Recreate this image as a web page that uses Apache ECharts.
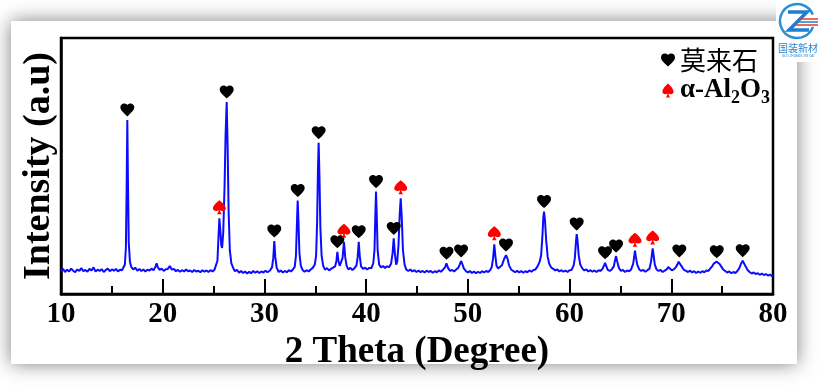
<!DOCTYPE html>
<html>
<head>
<meta charset="utf-8">
<script src="https://cdn.jsdelivr.net/npm/echarts@6/dist/echarts.min.js"></script>
<style>
html,body{margin:0;padding:0;background:#fff;}
#chart{width:820px;height:389px;}
</style>
</head>
<body>
<div id="chart"></div>
<script>
// XRD scan: [2theta (deg), intensity (a.u., 0-100 of frame height)]
const xrdScan = [
[10.0,9.0],[10.2,9.8],[10.4,8.6],[10.6,9.5],[10.8,8.8],[11.0,9.9],[11.2,9.1],[11.4,8.5],[11.6,9.6],[11.8,9.0],
[12.0,10.1],[12.2,8.9],[12.4,9.4],[12.6,8.7],[12.8,9.8],[13.0,9.2],[13.2,10.4],[13.4,8.8],[13.6,9.5],[13.8,9.0],
[14.0,9.7],[14.2,8.6],[14.4,9.4],[14.6,9.9],[14.8,8.9],[15.0,9.6],[15.2,9.1],[15.4,9.8],[15.6,8.8],[15.8,9.5],[16.0,9.3],
[16.15,9.9],[16.28,11.5],[16.38,18],[16.45,40],[16.52,68],[16.58,45],[16.66,20],[16.78,12.5],[16.92,10.5],
[17.1,9.6],[17.3,10.3],[17.5,9.1],[17.7,9.8],[17.9,9.0],[18.1,9.6],[18.3,8.8],[18.5,9.5],[18.7,9.2],[18.9,9.9],
[19.1,9.3],[19.3,10.8],[19.4,12.0],[19.5,10.6],[19.7,9.4],[19.9,9.9],[20.1,9.0],[20.3,9.7],[20.5,9.8],[20.7,10.9],
[20.9,9.5],[21.1,9.8],[21.3,8.9],[21.5,9.4],[21.7,8.7],[21.9,9.3],[22.1,8.8],[22.3,9.6],[22.5,8.9],[22.7,9.2],
[22.9,8.6],[23.1,9.4],[23.3,8.8],[23.5,9.1],[23.7,8.5],[23.9,9.3],[24.1,8.7],[24.3,9.2],[24.5,8.6],[24.7,9.3],
[24.9,8.8],[25.1,9.6],
[25.25,10.2],[25.38,13],[25.48,22],[25.57,29.6],[25.66,25],[25.76,19],[25.84,18],[25.95,24],[26.08,42],[26.18,62],
[26.29,75],[26.38,58],[26.48,32],[26.6,17],[26.75,12],[26.95,10],
[27.1,8.9],[27.3,9.5],[27.5,8.3],[27.7,9.0],[27.9,8.2],[28.1,8.8],[28.3,8.0],[28.5,8.7],[28.7,8.1],[28.9,9.0],
[29.1,8.3],[29.3,8.9],[29.5,8.2],[29.7,8.8],[29.9,8.4],[30.1,9.1],[30.3,8.5],[30.55,9.2],
[30.75,10.5],[30.87,14],[30.97,20.7],[31.07,14.5],[31.2,10.3],
[31.4,8.6],[31.6,9.2],[31.8,8.4],[32.0,9.0],[32.2,8.5],[32.4,9.3],[32.6,8.8],[32.8,9.6],
[32.98,10.6],[33.1,15],[33.2,28],[33.27,36.5],[33.34,29],[33.44,16],[33.58,11],
[33.75,9.4],[33.95,8.7],[34.15,9.3],[34.35,8.8],[34.55,9.6],[34.75,10.2],
[34.95,11.5],[35.08,15],[35.18,28],[35.26,48],[35.33,59.1],[35.41,46],[35.5,26],[35.62,15],[35.78,11],
[35.95,9.5],[36.15,10.1],[36.35,9.2],[36.55,9.8],[36.75,10.3],[36.95,10.8],
[37.08,13],[37.17,16.5],[37.27,13],[37.4,11],[37.55,11.3],[37.68,14],[37.82,20.4],[37.94,14.5],[38.08,11],
[38.25,9.6],[38.45,10.2],[38.65,9.4],[38.85,10.1],[39.05,11.2],
[39.17,14.5],[39.27,20.4],[39.37,14.8],[39.5,10.8],
[39.7,9.8],[39.9,10.3],[40.1,9.6],[40.3,10.2],[40.5,10.0],[40.7,12],
[40.82,17],[40.9,30],[40.97,40],[41.04,31],[41.13,17],[41.28,11.5],
[41.45,10.4],[41.65,10.9],[41.85,10.2],[42.05,10.8],[42.25,10.5],[42.45,11.8],
[42.6,16],[42.71,21.7],[42.82,16],[42.95,11.5],[43.05,12.5],[43.18,19],[43.3,31],[43.4,37.4],[43.5,30],[43.62,17],[43.78,11.5],
[43.95,9.5],[44.15,9.0],[44.35,9.6],[44.55,8.8],[44.75,9.3],[44.95,8.6],[45.15,9.2],[45.35,8.5],[45.55,9.0],[45.75,8.4],
[45.95,9.1],[46.15,8.6],[46.35,9.0],[46.55,8.3],[46.75,8.9],[46.95,8.5],[47.15,9.2],[47.35,8.7],[47.55,9.5],[47.75,10.4],
[47.9,12],[48.05,10.2],[48.25,9.0],[48.45,9.4],[48.65,8.8],[48.85,9.6],[49.05,10.2],[49.2,11.5],
[49.33,12.9],[49.45,11.8],[49.6,10],[49.8,9.0],[50.0,8.4],[50.2,9.0],[50.4,8.2],[50.6,8.8],[50.8,8.1],[51.0,8.7],
[51.2,8.2],[51.4,8.9],[51.6,8.4],[51.8,9.0],[52.0,8.6],[52.2,9.4],[52.35,10.5],
[52.48,14],[52.6,19.4],[52.7,15],[52.82,11],[52.98,10],[53.15,10.6],[53.35,11.2],[53.55,13.5],
[53.75,15.2],[53.9,13.8],[54.05,11.2],[54.25,9.6],[54.45,9.0],[54.65,8.5],[54.85,9.1],[55.05,8.4],[55.25,9.0],[55.45,8.3],
[55.65,8.9],[55.85,8.5],[56.05,9.2],[56.25,8.7],[56.45,9.4],[56.65,9.6],[56.85,10.8],[57.05,12.5],
[57.2,15],[57.32,22],[57.42,30],[57.49,32.2],[57.58,29],[57.7,21],[57.85,14.5],[58.0,11.8],[58.2,10.3],[58.4,9.8],
[58.6,9.2],[58.8,9.6],[59.0,8.8],[59.2,9.3],[59.4,8.7],[59.6,9.1],[59.8,8.6],[60.0,9.3],[60.2,9.4],[60.4,11.2],
[60.52,14],[60.62,20],[60.7,23.4],[60.78,21],[60.9,15],[61.05,11.5],[61.25,10.0],[61.45,9.2],[61.65,9.6],[61.85,8.8],
[62.05,9.3],[62.25,8.7],[62.45,9.2],[62.65,8.6],[62.85,9.3],[63.05,9.0],[63.25,9.9],
[63.4,11.3],[63.49,12.2],[63.6,11],[63.75,9.4],[63.95,9.0],[64.15,9.6],[64.35,10.8],
[64.47,13.2],[64.57,14.8],[64.68,12.8],[64.85,10.2],[65.05,9.0],[65.25,9.4],[65.45,8.6],[65.65,9.2],[65.85,8.9],[66.05,9.6],[66.25,11.8],
[66.35,14.5],[66.43,16.9],[66.52,14.5],[66.65,11.5],[66.85,9.6],[67.05,9.0],[67.25,9.4],[67.45,8.7],[67.65,9.3],[67.85,9.8],[68.0,12.5],
[68.1,15.5],[68.17,17.8],[68.25,15.5],[68.38,11.5],[68.55,9.6],[68.75,9.0],[68.95,9.4],[69.15,8.6],[69.35,9.1],[69.55,9.6],
[69.7,10.5],[69.78,11],[69.88,10.2],[70.05,9.3],[70.25,9.6],[70.45,10.5],
[70.6,11.5],[70.72,12.6],[70.79,12.9],[70.9,12.2],[71.05,10.6],[71.25,9.4],[71.45,9.0],[71.65,8.6],[71.85,9.1],[72.05,8.4],
[72.25,8.9],[72.45,8.2],[72.65,8.8],[72.85,8.3],[73.05,8.9],[73.25,8.5],[73.45,9.2],[73.65,9.0],[73.85,10.0],[74.05,11],
[74.2,12.0],[74.35,12.5],[74.47,12.6],[74.6,12.2],[74.75,11.7],[74.9,10.8],[75.1,9.6],[75.3,9.0],[75.5,8.4],[75.7,8.8],
[75.9,8.1],[76.1,8.6],[76.3,8.2],[76.5,9.0],[76.7,10.2],[76.85,11.8],
[77.02,13],[77.15,12.3],[77.3,10.8],[77.5,9.4],[77.7,8.6],[77.9,8.0],[78.1,8.4],[78.3,7.8],[78.5,8.1],[78.7,7.5],
[78.9,8.0],[79.1,7.4],[79.3,7.8],[79.5,7.2],[79.7,7.6],[79.9,7.0],[80.0,7.3]
];

// Peak markers
const mulliteTwoTheta = [16.52, 26.29, 30.97, 33.27, 35.33, 37.17, 39.27, 40.97, 42.71, 47.9, 49.33, 53.75, 57.49, 60.70, 63.49, 64.57, 70.79, 74.47, 77.02];
const mulliteTop      = [68,    75,    20.7,  36.5,  59.1,  16.5,  20.4,  40,    21.7,  12,   12.9,  15.2,  32.2,  23.4,  12.2,  14.8,  12.9,  12.6,  13];
const aluminaTwoTheta = [25.57, 37.82, 43.40, 52.60, 66.43, 68.17];
const aluminaTop      = [29.6,  20.4,  37.4,  19.4,  16.9,  17.8];

const xTicks = [10, 20, 30, 40, 50, 60, 70, 80];
const legendNames = ['莫来石', 'α-Al2O3'];

const heartPath = 'path://M12 21.35l-1.45-1.32C5.4 15.36 2 12.28 2 8.5 2 5.42 4.42 3 7.5 3c1.74 0 3.41.81 4.5 2.09C13.09 3.81 14.76 3 16.5 3 19.58 3 22 5.42 22 8.5c0 3.78-3.4 6.86-8.55 11.54L12 21.35z';
const spadePath = 'path://M12 2C12 2 4 9 4 13.5C4 16 5.8 17.5 7.8 17.5C9.3 17.5 10.5 16.8 11.2 15.8C11 18 10.4 20 9 22L15 22C13.6 20 13 18 12.8 15.8C13.5 16.8 14.7 17.5 16.2 17.5C18.2 17.5 20 16 20 13.5C20 9 12 2 12 2Z';

const serif = '"Liberation Serif","Times New Roman",serif';
const chart = echarts.init(document.getElementById('chart'), null, {renderer: 'canvas'});

chart.setOption({
  animation: false,
  backgroundColor: '#fff',
  graphic: [
    { type: 'rect', z: -10, shape: {x: 11, y: 21, width: 786, height: 343},
      style: {fill: '#fff', shadowBlur: 18, shadowColor: 'rgba(0,0,0,0.5)'} },
    { type: 'rect', z: -5, shape: {x: 776, y: 0, width: 44, height: 62}, style: {fill: '#fff'} },
    { type: 'arc', z: 10, shape: {cx: 797, cy: 21, r: 17, startAngle: 0.35, endAngle: 5.9},
      style: {stroke: '#2b8fd6', lineWidth: 2.5, fill: null} },
    { type: 'polyline', z: 10, shape: {points: [[788, 12], [807, 12], [789, 30], [809, 30]]},
      style: {stroke: '#1f7fcf', lineWidth: 3.5, fill: null} },
    { type: 'line', z: 10, shape: {x1: 799, y1: 19, x2: 818, y2: 19}, style: {stroke: '#e53935', lineWidth: 1.5} },
    { type: 'line', z: 10, shape: {x1: 797, y1: 22, x2: 818, y2: 22}, style: {stroke: '#1f7fcf', lineWidth: 1.5} },
    { type: 'line', z: 10, shape: {x1: 795, y1: 25, x2: 818, y2: 25}, style: {stroke: '#e53935', lineWidth: 1.5} },
    { type: 'text', z: 10, x: 798, y: 48,
      style: {text: '国装新材', fill: '#2b87d1', font: '10px "Noto Sans CJK SC"', align: 'center', verticalAlign: 'middle'} },
    { type: 'text', z: 10, x: 798, y: 56,
      style: {text: 'GUO ZHUANG XIN CAI', fill: '#2b87d1', font: '3px sans-serif', align: 'center', verticalAlign: 'middle'} }
  ],
  grid: {left: 61, right: 47, top: 38, bottom: 95, show: true, borderColor: '#000', borderWidth: 2.5, backgroundColor: 'transparent'},
  legend: {
    orient: 'vertical', left: 656, top: 42, itemWidth: 14, itemHeight: 14, itemGap: 4,
    data: [{name: legendNames[0], icon: heartPath, itemStyle: {color: '#000', opacity: 1}},
           {name: legendNames[1], icon: spadePath, itemStyle: {color: '#ff0000', opacity: 1}}],
    formatter: function (n) {
      return n === legendNames[1] ? '{t|α-Al}{s|2}{t|O}{s|3}' : '{c|' + n + '}';
    },
    textStyle: {
      color: '#000',
      rich: {
        c: {fontFamily: '"Noto Sans CJK SC"', fontSize: 26, lineHeight: 32, color: '#000'},
        t: {fontFamily: serif, fontWeight: 'bold', fontSize: 27, lineHeight: 34, color: '#000'},
        s: {fontFamily: serif, fontWeight: 'bold', fontSize: 18, lineHeight: 34, verticalAlign: 'bottom', color: '#000'}
      }
    }
  },
  xAxis: {
    type: 'value', min: 10, max: 80, interval: 10,
    name: '2 Theta (Degree)', nameLocation: 'middle', nameGap: 32,
    nameTextStyle: {fontFamily: serif, fontWeight: 'bold', fontSize: 37, color: '#000'},
    axisLine: {show: true, lineStyle: {color: '#000', width: 2.5}},
    axisTick: {show: true, inside: true, length: 15, lineStyle: {color: '#000', width: 2}},
    minorTick: {show: true, splitNumber: 2, length: 8, lineStyle: {color: '#000', width: 2}},
    splitLine: {show: false},
    axisLabel: {fontFamily: serif, fontWeight: 'bold', fontSize: 29, color: '#000', margin: 6,
      customValues: xTicks}
  },
  yAxis: {
    type: 'value', min: 0, max: 100,
    name: 'Intensity (a.u)', nameLocation: 'middle', nameGap: 3, nameRotate: 90,
    nameTextStyle: {fontFamily: serif, fontWeight: 'bold', fontSize: 38, color: '#000'},
    axisLine: {show: true, lineStyle: {color: '#000', width: 2.5}},
    axisTick: {show: false}, axisLabel: {show: false}, splitLine: {show: false}
  },
  series: [
    { type: 'line', name: 'XRD', data: xrdScan, showSymbol: false, symbol: 'none',
      lineStyle: {color: '#0b0bff', width: 2}, z: 2, silent: true },
    { type: 'scatter', name: legendNames[0], symbol: heartPath, symbolSize: [14, 13], symbolOffset: [0, -10],
      itemStyle: {color: '#000', opacity: 1}, z: 3,
      data: mulliteTwoTheta.map((x, i) => [x, mulliteTop[i]]) },
    { type: 'scatter', name: legendNames[1], symbol: spadePath, symbolSize: [13, 14], symbolOffset: [0, -11],
      itemStyle: {color: '#ff0000', opacity: 1}, z: 3,
      data: aluminaTwoTheta.map((x, i) => [x, aluminaTop[i]]) }
  ]
});
</script>
</body>
</html>
